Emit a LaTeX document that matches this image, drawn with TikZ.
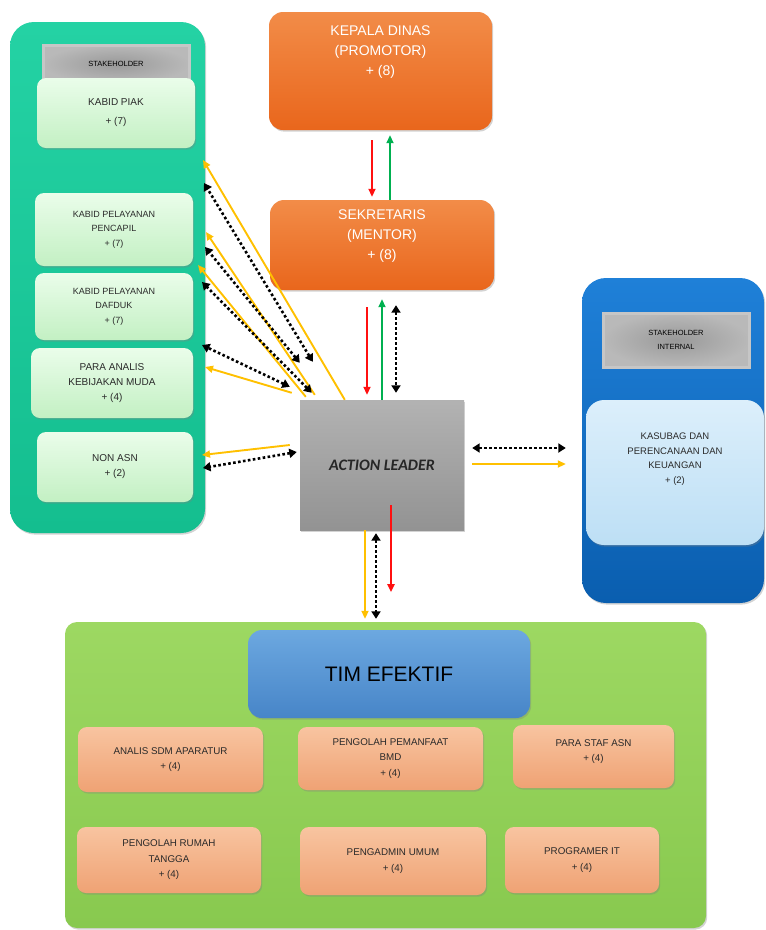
\documentclass[tikz,border=0pt]{standalone}
\usepackage{fontspec}
\setmainfont{Liberation Sans}
\newfontfamily\carlitofont{Carlito}
\usetikzlibrary{arrows.meta,shadows,calc}
\definecolor{tealT}{HTML}{24D2A4}
\definecolor{tealB}{HTML}{14BE8F}
\definecolor{lgT}{HTML}{EAFDEA}
\definecolor{lgB}{HTML}{C3F0C3}
\definecolor{orT}{HTML}{F28C48}
\definecolor{orB}{HTML}{E9661C}
\definecolor{blT}{HTML}{1F80D8}
\definecolor{blB}{HTML}{0A5EAF}
\definecolor{lbT}{HTML}{DCEFFB}
\definecolor{lbB}{HTML}{BDDFF5}
\definecolor{gnT}{HTML}{9DD862}
\definecolor{gnB}{HTML}{88C94F}
\definecolor{tmT}{HTML}{6CA8E0}
\definecolor{tmB}{HTML}{4785C8}
\definecolor{soT}{HTML}{F8C4A0}
\definecolor{soB}{HTML}{EFA274}
\definecolor{yel}{HTML}{FFC000}
\definecolor{red1}{HTML}{FF1010}
\definecolor{grn1}{HTML}{00B050}
\definecolor{txt}{HTML}{2A2A2A}
\begin{document}
\begin{tikzpicture}[x=1pt,y=-1pt,
  shd/.style={drop shadow={opacity=0.35,shadow xshift=1.2pt,shadow yshift=-1.6pt}},
  panelbox/.style={rounded corners=24pt,draw=none,shd},
  lgbox/.style={rounded corners=9pt,draw=none,top color=lgT,bottom color=lgB,shd,
     align=center,font=\fontsize{9}{14.5}\selectfont,text=txt,inner sep=1pt},
  bigor/.style={rounded corners=14pt,draw=none,top color=orT,bottom color=orB,shd,
     align=center,font=\fontsize{14}{20}\selectfont,text=white,inner sep=1pt},
  hdrbox/.style={draw=gray!45,line width=3pt,inner color=gray!80,outer color=gray!55,
     align=center,font=\fontsize{7.5}{15}\selectfont,text=black,inner sep=1pt},
  sobox/.style={rounded corners=9pt,draw=none,top color=soT,bottom color=soB,shd,
     align=center,font=\fontsize{9.8}{15.5}\selectfont,text=txt,inner sep=1pt},
  yarr/.style={draw=yel,line width=1.9pt,-{Triangle[length=8pt,width=7pt]}},
  rarr/.style={draw=red1,line width=1.9pt,-{Triangle[length=8pt,width=7pt]}},
  garr/.style={draw=grn1,line width=1.9pt,-{Triangle[length=8pt,width=7pt]}},
  darr/.style={draw=black,line width=2.6pt,dash pattern=on 2.6pt off 2.4pt,
     {Triangle[length=7.5pt,width=9pt]}-{Triangle[length=7.5pt,width=9pt]}}
]
\useasboundingbox (0,0) rectangle (766,930);

% ---------- panels ----------
\node[panelbox,top color=tealT,bottom color=tealB,minimum width=195pt,minimum height=511pt] (ext) at (107.5,277.5) {};
\node[panelbox,top color=blT,bottom color=blB,minimum width=182pt,minimum height=325pt] (int) at (673,440.5) {};
\node[panelbox,rounded corners=12pt,top color=gnT,bottom color=gnB,minimum width=641pt,minimum height=306pt] (tim) at (385.5,775) {};

% ---------- left stakeholder ----------
\node[hdrbox,minimum width=146pt,minimum height=38pt] (hdrL) at (116,64) {STAKEHOLDER};
\node[lgbox,font=\fontsize{10}{19}\selectfont,minimum width=158pt,minimum height=70pt] (piak) at (116,113) {KABID PIAK\\+ (7)};
\node[lgbox,minimum width=158pt,minimum height=73pt] (pencapil) at (114,229.5) {KABID PELAYANAN\\PENCAPIL\\+ (7)};
\node[lgbox,minimum width=158pt,minimum height=67pt] (dafduk) at (114,306.5) {KABID PELAYANAN\\DAFDUK\\+ (7)};
\node[lgbox,font=\fontsize{10}{15}\selectfont,minimum width=162pt,minimum height=70pt] (analis) at (112,383) {PARA ANALIS\\KEBIJAKAN MUDA\\+ (4)};
\node[lgbox,font=\fontsize{10}{15}\selectfont,minimum width=156pt,minimum height=70pt] (nonasn) at (115,467) {NON ASN\\+ (2)};

% ---------- top chain ----------
\node[bigor,minimum width=223pt,minimum height=118pt] (kepala) at (380.5,71) {KEPALA DINAS\\(PROMOTOR)\\+ (8)\\~\\~};
\node[bigor,minimum width=224pt,minimum height=90pt] (sek) at (382,245) {SEKRETARIS\\(MENTOR)\\+ (8)\\~};

\node[draw=none,top color=gray!60,bottom color=gray!85,shd,minimum width=164pt,minimum height=130pt,
  font=\carlitofont\bfseries\itshape\fontsize{16}{18}\selectfont,text=black!85] (al) at (382,465) {ACTION LEADER};

% ---------- right stakeholder ----------
\node[hdrbox,minimum width=146pt,minimum height=54pt] (hdrR) at (676,340) {STAKEHOLDER\\[-1pt]INTERNAL};
\node[rounded corners=18pt,draw=none,top color=lbT,bottom color=lbB,shd,minimum width=178pt,minimum height=145pt,
  align=center,font=\fontsize{9.5}{14.5}\selectfont,text=txt] (kasubag) at (675,472.5) {KASUBAG DAN\\PERENCANAAN DAN\\KEUANGAN\\+ (2)\\~\\~};

% ---------- tim efektif ----------
\node[rounded corners=14pt,draw=none,top color=tmT,bottom color=tmB,shd,minimum width=282pt,minimum height=88pt,
  font=\fontsize{21}{24}\selectfont,text=black] (timhdr) at (389,674) {TIM EFEKTIF\\[2pt]~};
\node[sobox,minimum width=185pt,minimum height=65pt] (asdm) at (170.5,759.5) {ANALIS SDM APARATUR\\+ (4)};
\node[sobox,minimum width=185pt,minimum height=63pt] (bmd) at (390.5,758.5) {PENGOLAH PEMANFAAT\\BMD\\+ (4)};
\node[sobox,minimum width=161pt,minimum height=63pt] (staf) at (593.5,756.5) {PARA STAF ASN\\+ (4)\\[-4pt]~};
\node[sobox,minimum width=184pt,minimum height=66pt] (rt) at (169,860) {PENGOLAH RUMAH\\TANGGA\\+ (4)};
\node[sobox,minimum width=186pt,minimum height=68pt] (umum) at (393,861) {PENGADMIN UMUM\\+ (4)};
\node[sobox,minimum width=154pt,minimum height=66pt] (it) at (582,860) {PROGRAMER IT\\+ (4)};

% ---------- vertical arrows ----------
\draw[rarr] ($(kepala.south)+(-8.5,10)$) -- ($(sek.north)+(-10,-3)$);
\draw[garr] ($(sek.north)+(8,0)$) -- ($(kepala.south)+(9.5,5)$);
\draw[rarr] ($(sek.south)+(-15,17)$) -- ($(al.north)+(-15,-5)$);
\draw[garr] (al.north) -- ($(sek.south)+(0,9)$);
\draw[darr] ($(sek.south)+(14,15)$) -- ($(al.north)+(14,-7)$);

% ---------- right arrows ----------
\coordinate (rD) at ($(int.west)+(-16,7.5)$);
\coordinate (rY) at ($(int.west)+(-16,23.5)$);
\draw[darr] ($(al.east)+(8,-17)$) -- (rD);
\draw[yarr] ($(al.east)+(8,-1)$) -- (rY);

% ---------- bottom arrows ----------
\draw[yarr] ($(al.south)+(-17,0)$) -- ($(tim.north)+(-20.5,-3)$);
\draw[darr] ($(al.south)+(-6,3)$) -- ($(tim.north)+(-9.5,-3)$);
\draw[rarr] ($(al.south)+(9,-25)$) -- ($(al.south)+(9,62)$);

% ---------- left arrows ----------
\coordinate (pY1) at (203,160);
\coordinate (pY2) at (206,232);
\coordinate (pY3) at (198,265);
\coordinate (pY4) at (205,367);
\coordinate (pY5) at (202,455);
\coordinate (pD1) at (204,183);
\coordinate (pD2) at (205,247);
\coordinate (pD3) at (202,282);
\coordinate (pD4) at (202,345);
\coordinate (pD5) at (203,468);
\draw[yarr] ($(al.north west)+(45,0)$) -- (pY1);
\draw[yarr] ($(al.north west)+(15,-5)$) -- (pY2);
\draw[yarr] ($(al.north west)+(6,-3)$) -- (pY3);
\draw[yarr] ($(al.north west)+(-8,-7)$) -- (pY4);
\draw[yarr] ($(al.west)+(-10,-20)$) -- (pY5);
\draw[darr] ($(al.north west)+(13,-38)$) -- (pD1);
\draw[darr] ($(al.north west)+(0,-37)$) -- (pD2);
\draw[darr] ($(al.north west)+(12,-7)$) -- (pD3);
\draw[darr] ($(al.north west)+(-10,-13)$) -- (pD4);
\draw[darr] ($(al.west)+(-3,-13)$) -- (pD5);
\end{tikzpicture}
\end{document}
